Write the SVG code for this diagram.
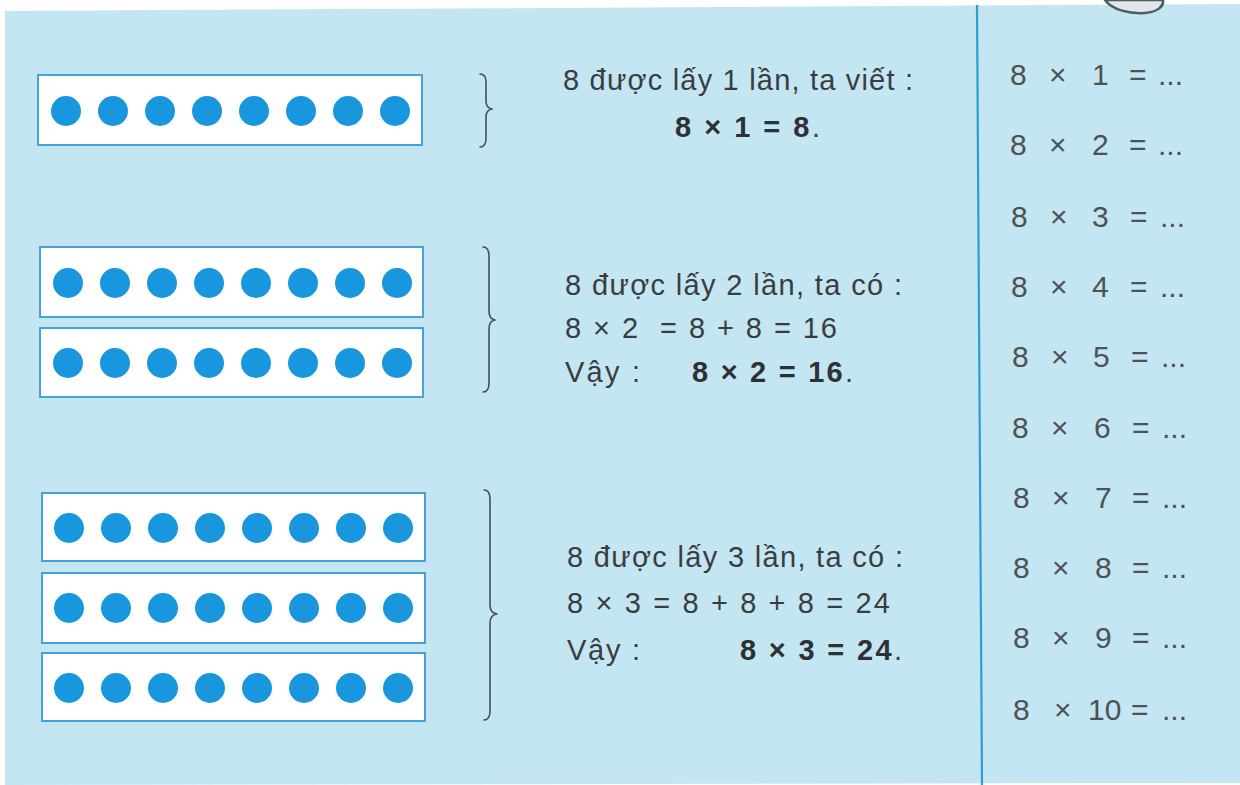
<svg xmlns="http://www.w3.org/2000/svg" xmlns:xlink="http://www.w3.org/1999/xlink" width="1240" height="785" viewBox="0 0 1240 785">
<style>
.bg{fill:#c4e5f2}
.box{fill:#ffffff;stroke:#45a3da;stroke-width:2}
.dot{fill:#1897df}
.brace{fill:none;stroke:#4a4f52;stroke-width:1.6;stroke-linecap:round;stroke-linejoin:round}
.t{font-family:"Liberation Sans",Arial,sans-serif;font-size:29px;fill:#3a3d3f}
.b{font-weight:bold;fill:#2e3133}
.r{font-family:"Liberation Sans",Arial,sans-serif;font-size:30px;fill:#4e5254}
</style>
<defs>
<g id="dots">
<circle class="dot" cx="0" cy="0" r="15"/>
<circle class="dot" cx="47" cy="0" r="15"/>
<circle class="dot" cx="94" cy="0" r="15"/>
<circle class="dot" cx="141" cy="0" r="15"/>
<circle class="dot" cx="188" cy="0" r="15"/>
<circle class="dot" cx="235" cy="0" r="15"/>
<circle class="dot" cx="282" cy="0" r="15"/>
<circle class="dot" cx="329" cy="0" r="15"/>
</g>
</defs>
<rect x="0" y="0" width="1240" height="785" fill="#ffffff"/>
<polygon class="bg" points="5,11 1240,4 1240,783 5,785"/>
<path d="M1105,0 C1112,10 1130,14 1145,13 C1158,12 1164,6 1163,0 Z" fill="#dfe7ea" stroke="#4e5c62" stroke-width="2.5"/>
<line x1="977" y1="5" x2="982" y2="785" stroke="#2a9fd6" stroke-width="2.2"/>

<g id="row1">
<rect class="box" x="38" y="75" width="384" height="70"/>
<use xlink:href="#dots" x="66" y="111"/>
</g>
<g id="row2a">
<rect class="box" x="40" y="247" width="383" height="70"/>
<use xlink:href="#dots" x="68" y="283"/>
</g>
<g id="row2b">
<rect class="box" x="40" y="328" width="383" height="69"/>
<use xlink:href="#dots" x="68" y="363"/>
</g>
<g id="row3a">
<rect class="box" x="42" y="493" width="383" height="68"/>
<use xlink:href="#dots" x="69" y="528"/>
</g>
<g id="row3b">
<rect class="box" x="42" y="573" width="383" height="70"/>
<use xlink:href="#dots" x="69" y="608"/>
</g>
<g id="row3c">
<rect class="box" x="42" y="653" width="383" height="68"/>
<use xlink:href="#dots" x="69" y="688"/>
</g>

<g id="connectors">
<path class="brace" d="M480,74 Q486,74 486,82 L486,101 Q486,108 492,109 Q486,110 486,117 L486,138 Q486,147 480,147"/>
<path class="brace" d="M483,247 Q489,247 489,256 L489,311 Q489,319 495,320 Q489,321 489,329 L489,383 Q489,392 483,392"/>
<path class="brace" d="M484,490 Q490,490 490,499 L490,605 Q490,613 497,614 Q490,615 490,623 L490,711 Q490,720 484,720"/>
</g>

<g id="text1">
<text class="t" x="563" y="90" textLength="350" lengthAdjust="spacing">8 được lấy 1 lần, ta viết :</text>
<text class="t" x="675" y="137" textLength="145" lengthAdjust="spacing"><tspan class="b">8 × 1 = 8</tspan>.</text>
</g>
<g id="text2">
<text class="t" x="565" y="295" textLength="337" lengthAdjust="spacing">8 được lấy 2 lần, ta có :</text>
<text class="t" x="565" y="338" textLength="272" lengthAdjust="spacing">8 × 2 &#160;= 8 + 8 = 16</text>
<text class="t" x="565" y="382" textLength="75" lengthAdjust="spacing">Vậy :</text>
<text class="t" x="692" y="382" textLength="161" lengthAdjust="spacing"><tspan class="b">8 × 2 = 16</tspan>.</text>
</g>
<g id="text3">
<text class="t" x="567" y="567" textLength="336" lengthAdjust="spacing">8 được lấy 3 lần, ta có :</text>
<text class="t" x="567" y="613" textLength="323" lengthAdjust="spacing">8 × 3 = 8 + 8 + 8 = 24</text>
<text class="t" x="567" y="660" textLength="73" lengthAdjust="spacing">Vậy :</text>
<text class="t" x="740" y="660" textLength="162" lengthAdjust="spacing"><tspan class="b">8 × 3 = 24</tspan>.</text>
</g>

<g id="table">
<text class="r" y="85"><tspan x="1010">8</tspan> <tspan x="1049">×</tspan> <tspan x="1092">1</tspan> <tspan x="1129">=</tspan> <tspan x="1158">...</tspan></text>
<text class="r" y="155"><tspan x="1010">8</tspan> <tspan x="1049">×</tspan> <tspan x="1092">2</tspan> <tspan x="1129">=</tspan> <tspan x="1158">...</tspan></text>
<text class="r" y="227"><tspan x="1011">8</tspan> <tspan x="1050">×</tspan> <tspan x="1092">3</tspan> <tspan x="1130">=</tspan> <tspan x="1160">...</tspan></text>
<text class="r" y="297"><tspan x="1011">8</tspan> <tspan x="1050">×</tspan> <tspan x="1092">4</tspan> <tspan x="1130">=</tspan> <tspan x="1160">...</tspan></text>
<text class="r" y="367"><tspan x="1012">8</tspan> <tspan x="1051">×</tspan> <tspan x="1093">5</tspan> <tspan x="1131">=</tspan> <tspan x="1161">...</tspan></text>
<text class="r" y="438"><tspan x="1012">8</tspan> <tspan x="1051">×</tspan> <tspan x="1094">6</tspan> <tspan x="1132">=</tspan> <tspan x="1162">...</tspan></text>
<text class="r" y="508"><tspan x="1013">8</tspan> <tspan x="1052">×</tspan> <tspan x="1095">7</tspan> <tspan x="1132">=</tspan> <tspan x="1162">...</tspan></text>
<text class="r" y="578"><tspan x="1013">8</tspan> <tspan x="1052">×</tspan> <tspan x="1095">8</tspan> <tspan x="1132">=</tspan> <tspan x="1162">...</tspan></text>
<text class="r" y="648"><tspan x="1013">8</tspan> <tspan x="1052">×</tspan> <tspan x="1095">9</tspan> <tspan x="1132">=</tspan> <tspan x="1162">...</tspan></text>
<text class="r" y="720"><tspan x="1013">8</tspan> <tspan x="1054">×</tspan> <tspan x="1088">10</tspan> <tspan x="1131">=</tspan> <tspan x="1162">...</tspan></text>
</g>
</svg>
